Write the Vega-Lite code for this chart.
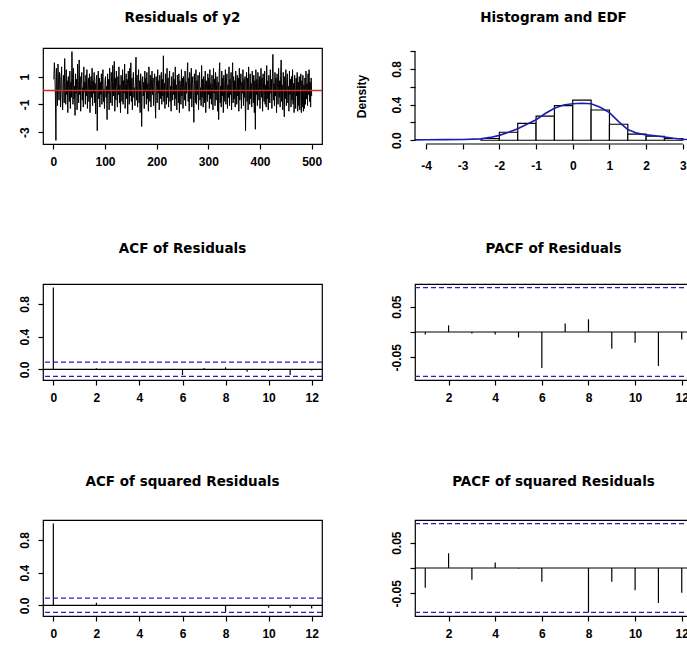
{
"$schema": "https://vega.github.io/schema/vega-lite/v6.json",
"background": "white",
"padding": {"left": 17, "top": 9, "right": 0, "bottom": 0},
"columns": 2,
"spacing": {"row": 140, "column": 93},
"bounds": "flush",
"config": {
 "font": "Liberation Sans",
 "view": {"stroke": "black", "strokeWidth": 1.2},
 "axis": {"grid": false, "domain": false, "tickColor": "black", "tickSize": 5, "tickWidth": 1.2, "labelFont": "Liberation Sans", "labelFontSize": 12, "labelFontWeight": "bold", "labelColor": "black", "labelOverlap": false, "labelPadding": 7, "titleFont": "Liberation Sans", "titleFontSize": 12, "titleFontWeight": "bold", "titleColor": "black"},
 "axisX": {"labelBaseline": "top", "labelAlign": "center"},
 "axisY": {"labelAngle": 270, "labelAlign": "center", "labelBaseline": "bottom", "labelPadding": 7},
 "title": {"font": "DejaVu Sans", "fontSize": 13.5, "fontWeight": "bold", "color": "black", "anchor": "middle", "frame": "group", "baseline": "alphabetic"}
},
"datasets": {
 "res": [
{"t":1,"v":0.8},{"t":2,"v":2.0},{"t":3,"v":1.2},{"t":4,"v":-0.4},{"t":5,"v":-3.6},{"t":6,"v":1.6},{"t":7,"v":0.3},{"t":8,"v":-1.1},{"t":9,"v":1.9},{"t":10,"v":0.5},
{"t":11,"v":-0.7},{"t":12,"v":1.3},{"t":13,"v":0.9},{"t":14,"v":-1.2},{"t":15,"v":0.6},{"t":16,"v":1.7},{"t":17,"v":-0.2},{"t":18,"v":-1.4},{"t":19,"v":0.4},{"t":20,"v":1.1},
{"t":21,"v":-0.9},{"t":22,"v":2.3},{"t":23,"v":0.2},{"t":24,"v":-1.0},{"t":25,"v":1.5},{"t":26,"v":-0.3},{"t":27,"v":0.7},{"t":28,"v":-1.6},{"t":29,"v":1.0},{"t":30,"v":0.1},
{"t":31,"v":-0.8},{"t":32,"v":1.4},{"t":33,"v":-1.3},{"t":34,"v":0.6},{"t":35,"v":-0.5},{"t":36,"v":2.8},{"t":37,"v":0.9},{"t":38,"v":-1.0},{"t":39,"v":1.6},{"t":40,"v":-0.6},
{"t":41,"v":0.3},{"t":42,"v":-1.8},{"t":43,"v":1.2},{"t":44,"v":-0.2},{"t":45,"v":0.8},{"t":46,"v":-1.4},{"t":47,"v":1.9},{"t":48,"v":0.4},{"t":49,"v":-0.9},{"t":50,"v":2.2},
{"t":51,"v":-0.3},{"t":52,"v":1.0},{"t":53,"v":-1.5},{"t":54,"v":0.5},{"t":55,"v":1.3},{"t":56,"v":-0.7},{"t":57,"v":0.2},{"t":58,"v":-1.2},{"t":59,"v":1.7},{"t":60,"v":-0.1},
{"t":61,"v":0.6},{"t":62,"v":-1.0},{"t":63,"v":1.1},{"t":64,"v":-0.4},{"t":65,"v":1.5},{"t":66,"v":-1.3},{"t":67,"v":0.3},{"t":68,"v":0.9},{"t":69,"v":-0.8},{"t":70,"v":1.2},
{"t":71,"v":-1.6},{"t":72,"v":0.4},{"t":73,"v":1.0},{"t":74,"v":-0.5},{"t":75,"v":1.6},{"t":76,"v":-1.1},{"t":77,"v":0.7},{"t":78,"v":-0.2},{"t":79,"v":1.3},{"t":80,"v":-0.9},
{"t":81,"v":0.5},{"t":82,"v":-1.7},{"t":83,"v":0.8},{"t":84,"v":1.1},{"t":85,"v":-2.9},{"t":86,"v":0.2},{"t":87,"v":1.4},{"t":88,"v":-0.6},{"t":89,"v":0.9},{"t":90,"v":-1.2},
{"t":91,"v":0.6},{"t":92,"v":-0.3},{"t":93,"v":1.2},{"t":94,"v":-1.0},{"t":95,"v":0.4},{"t":96,"v":1.5},{"t":97,"v":-0.8},{"t":98,"v":0.1},{"t":99,"v":-1.3},{"t":100,"v":0.7},
{"t":101,"v":1.0},{"t":102,"v":-0.5},{"t":103,"v":0.3},{"t":104,"v":-2.1},{"t":105,"v":1.2},{"t":106,"v":-0.2},{"t":107,"v":0.8},{"t":108,"v":-1.4},{"t":109,"v":1.6},{"t":110,"v":0.0},
{"t":111,"v":-0.9},{"t":112,"v":1.3},{"t":113,"v":0.5},{"t":114,"v":-1.1},{"t":115,"v":1.8},{"t":116,"v":-0.4},{"t":117,"v":0.6},{"t":118,"v":2.1},{"t":119,"v":-1.5},{"t":120,"v":0.9},
{"t":121,"v":-0.7},{"t":122,"v":1.4},{"t":123,"v":0.2},{"t":124,"v":-1.2},{"t":125,"v":1.0},{"t":126,"v":-0.3},{"t":127,"v":1.7},{"t":128,"v":-0.9},{"t":129,"v":0.4},{"t":130,"v":-1.6},
{"t":131,"v":1.1},{"t":132,"v":0.3},{"t":133,"v":-0.8},{"t":134,"v":1.5},{"t":135,"v":-1.0},{"t":136,"v":0.7},{"t":137,"v":-0.2},{"t":138,"v":1.9},{"t":139,"v":-1.3},{"t":140,"v":0.5},
{"t":141,"v":1.2},{"t":142,"v":-0.6},{"t":143,"v":0.8},{"t":144,"v":-1.7},{"t":145,"v":1.4},{"t":146,"v":0.1},{"t":147,"v":-1.0},{"t":148,"v":1.6},{"t":149,"v":-0.4},{"t":150,"v":2.0},
{"t":151,"v":-0.8},{"t":152,"v":0.9},{"t":153,"v":-1.4},{"t":154,"v":0.6},{"t":155,"v":1.3},{"t":156,"v":-0.5},{"t":157,"v":0.2},{"t":158,"v":-1.1},{"t":159,"v":1.0},{"t":160,"v":2.4},
{"t":161,"v":-0.7},{"t":162,"v":1.1},{"t":163,"v":-1.2},{"t":164,"v":0.4},{"t":165,"v":1.5},{"t":166,"v":-0.9},{"t":167,"v":0.7},{"t":168,"v":-1.6},{"t":169,"v":1.2},{"t":170,"v":0.3},
{"t":171,"v":-2.6},{"t":172,"v":0.8},{"t":173,"v":1.0},{"t":174,"v":-0.4},{"t":175,"v":0.6},{"t":176,"v":-1.3},{"t":177,"v":1.4},{"t":178,"v":-0.1},{"t":179,"v":0.9},{"t":180,"v":-1.0},
{"t":181,"v":1.3},{"t":182,"v":-0.6},{"t":183,"v":0.5},{"t":184,"v":-1.5},{"t":185,"v":1.7},{"t":186,"v":0.2},{"t":187,"v":-0.8},{"t":188,"v":1.1},{"t":189,"v":-1.2},{"t":190,"v":0.6},
{"t":191,"v":1.4},{"t":192,"v":-0.3},{"t":193,"v":0.9},{"t":194,"v":-1.1},{"t":195,"v":0.4},{"t":196,"v":1.2},{"t":197,"v":-0.7},{"t":198,"v":-2.0},{"t":199,"v":1.0},{"t":200,"v":0.3},
{"t":201,"v":-0.9},{"t":202,"v":1.5},{"t":203,"v":-0.2},{"t":204,"v":0.7},{"t":205,"v":-1.4},{"t":206,"v":1.1},{"t":207,"v":0.0},{"t":208,"v":-0.6},{"t":209,"v":1.3},{"t":210,"v":-1.0},
{"t":211,"v":0.8},{"t":212,"v":-0.4},{"t":213,"v":2.5},{"t":214,"v":-0.8},{"t":215,"v":0.5},{"t":216,"v":-1.3},{"t":217,"v":1.2},{"t":218,"v":0.2},{"t":219,"v":-1.0},{"t":220,"v":1.6},
{"t":221,"v":-0.5},{"t":222,"v":0.9},{"t":223,"v":-1.2},{"t":224,"v":0.6},{"t":225,"v":1.4},{"t":226,"v":-0.8},{"t":227,"v":0.3},{"t":228,"v":-1.5},{"t":229,"v":1.0},{"t":230,"v":0.1},
{"t":231,"v":-0.7},{"t":232,"v":1.3},{"t":233,"v":-0.3},{"t":234,"v":0.8},{"t":235,"v":-1.1},{"t":236,"v":1.7},{"t":237,"v":-0.6},{"t":238,"v":0.4},{"t":239,"v":-1.4},{"t":240,"v":1.1},
{"t":241,"v":0.5},{"t":242,"v":-0.9},{"t":243,"v":1.2},{"t":244,"v":-1.6},{"t":245,"v":0.7},{"t":246,"v":0.2},{"t":247,"v":-1.0},{"t":248,"v":1.5},{"t":249,"v":-0.4},{"t":250,"v":0.9},
{"t":251,"v":-1.3},{"t":252,"v":1.0},{"t":253,"v":0.3},{"t":254,"v":-0.7},{"t":255,"v":1.4},{"t":256,"v":-1.1},{"t":257,"v":0.6},{"t":258,"v":-0.2},{"t":259,"v":1.1},{"t":260,"v":2.0},
{"t":261,"v":-0.8},{"t":262,"v":0.9},{"t":263,"v":-1.5},{"t":264,"v":1.3},{"t":265,"v":0.0},{"t":266,"v":-0.6},{"t":267,"v":1.6},{"t":268,"v":-1.2},{"t":269,"v":0.5},{"t":270,"v":1.0},
{"t":271,"v":-0.4},{"t":272,"v":-2.3},{"t":273,"v":1.2},{"t":274,"v":0.3},{"t":275,"v":-0.9},{"t":276,"v":1.5},{"t":277,"v":-1.0},{"t":278,"v":0.7},{"t":279,"v":-0.3},{"t":280,"v":1.1},
{"t":281,"v":-1.4},{"t":282,"v":0.6},{"t":283,"v":1.3},{"t":284,"v":-0.7},{"t":285,"v":0.2},{"t":286,"v":-1.1},{"t":287,"v":1.8},{"t":288,"v":-0.5},{"t":289,"v":0.8},{"t":290,"v":-1.2},
{"t":291,"v":1.0},{"t":292,"v":0.4},{"t":293,"v":-0.9},{"t":294,"v":1.4},{"t":295,"v":-1.6},{"t":296,"v":0.7},{"t":297,"v":0.1},{"t":298,"v":-0.8},{"t":299,"v":1.2},{"t":300,"v":-0.3},
{"t":301,"v":0.9},{"t":302,"v":-1.3},{"t":303,"v":1.5},{"t":304,"v":-0.6},{"t":305,"v":0.5},{"t":306,"v":-1.0},{"t":307,"v":1.1},{"t":308,"v":0.2},{"t":309,"v":-1.4},{"t":310,"v":1.6},
{"t":311,"v":-0.2},{"t":312,"v":0.8},{"t":313,"v":-1.1},{"t":314,"v":1.3},{"t":315,"v":-0.7},{"t":316,"v":0.4},{"t":317,"v":1.0},{"t":318,"v":-1.5},{"t":319,"v":0.6},{"t":320,"v":-2.1},
{"t":321,"v":1.2},{"t":322,"v":2.0},{"t":323,"v":-0.9},{"t":324,"v":0.3},{"t":325,"v":-1.2},{"t":326,"v":1.4},{"t":327,"v":-0.4},{"t":328,"v":0.9},{"t":329,"v":-1.6},{"t":330,"v":1.1},
{"t":331,"v":0.1},{"t":332,"v":-0.8},{"t":333,"v":1.5},{"t":334,"v":-1.0},{"t":335,"v":0.6},{"t":336,"v":1.2},{"t":337,"v":-1.3},{"t":338,"v":0.4},{"t":339,"v":-0.5},{"t":340,"v":1.7},
{"t":341,"v":-1.1},{"t":342,"v":0.8},{"t":343,"v":-0.3},{"t":344,"v":1.3},{"t":345,"v":-1.4},{"t":346,"v":0.5},{"t":347,"v":2.0},{"t":348,"v":-0.9},{"t":349,"v":1.0},{"t":350,"v":-0.6},
{"t":351,"v":0.7},{"t":352,"v":-1.2},{"t":353,"v":1.4},{"t":354,"v":0.2},{"t":355,"v":-1.0},{"t":356,"v":1.1},{"t":357,"v":-0.4},{"t":358,"v":0.9},{"t":359,"v":-1.5},{"t":360,"v":1.6},
{"t":361,"v":-0.7},{"t":362,"v":0.3},{"t":363,"v":1.2},{"t":364,"v":-1.3},{"t":365,"v":0.6},{"t":366,"v":-0.2},{"t":367,"v":1.5},{"t":368,"v":-1.1},{"t":369,"v":0.8},{"t":370,"v":-0.5},
{"t":371,"v":1.0},{"t":372,"v":-2.9},{"t":373,"v":0.4},{"t":374,"v":1.3},{"t":375,"v":-0.8},{"t":376,"v":0.9},{"t":377,"v":-1.4},{"t":378,"v":1.7},{"t":379,"v":0.0},{"t":380,"v":-1.0},
{"t":381,"v":1.2},{"t":382,"v":-0.6},{"t":383,"v":0.5},{"t":384,"v":-1.2},{"t":385,"v":1.4},{"t":386,"v":0.3},{"t":387,"v":-0.9},{"t":388,"v":1.1},{"t":389,"v":-1.6},{"t":390,"v":0.7},
{"t":391,"v":-2.8},{"t":392,"v":1.5},{"t":393,"v":-0.3},{"t":394,"v":0.8},{"t":395,"v":-1.1},{"t":396,"v":1.3},{"t":397,"v":0.2},{"t":398,"v":-0.7},{"t":399,"v":1.0},{"t":400,"v":-1.3},
{"t":401,"v":0.6},{"t":402,"v":1.6},{"t":403,"v":-0.5},{"t":404,"v":0.9},{"t":405,"v":-1.5},{"t":406,"v":1.2},{"t":407,"v":0.1},{"t":408,"v":-0.8},{"t":409,"v":1.4},{"t":410,"v":-1.0},
{"t":411,"v":0.4},{"t":412,"v":-1.2},{"t":413,"v":1.8},{"t":414,"v":-0.6},{"t":415,"v":0.7},{"t":416,"v":-1.4},{"t":417,"v":1.1},{"t":418,"v":0.3},{"t":419,"v":-0.9},{"t":420,"v":1.5},
{"t":421,"v":-0.2},{"t":422,"v":0.8},{"t":423,"v":-1.3},{"t":424,"v":1.0},{"t":425,"v":2.6},{"t":426,"v":-0.7},{"t":427,"v":0.5},{"t":428,"v":-1.1},{"t":429,"v":1.3},{"t":430,"v":-0.4},
{"t":431,"v":0.9},{"t":432,"v":-1.6},{"t":433,"v":1.2},{"t":434,"v":0.2},{"t":435,"v":-1.0},{"t":436,"v":1.6},{"t":437,"v":-0.5},{"t":438,"v":0.7},{"t":439,"v":-1.2},{"t":440,"v":1.1},
{"t":441,"v":2.2},{"t":442,"v":-0.8},{"t":443,"v":0.4},{"t":444,"v":-1.4},{"t":445,"v":1.3},{"t":446,"v":0.0},{"t":447,"v":-1.9},{"t":448,"v":1.0},{"t":449,"v":-0.6},{"t":450,"v":1.5},
{"t":451,"v":-1.1},{"t":452,"v":0.6},{"t":453,"v":1.2},{"t":454,"v":-0.9},{"t":455,"v":0.3},{"t":456,"v":-1.5},{"t":457,"v":1.4},{"t":458,"v":-0.3},{"t":459,"v":0.8},{"t":460,"v":-1.2},
{"t":461,"v":1.0},{"t":462,"v":-0.7},{"t":463,"v":1.5},{"t":464,"v":-1.0},{"t":465,"v":0.5},{"t":466,"v":-1.6},{"t":467,"v":1.1},{"t":468,"v":0.2},{"t":469,"v":-1.3},{"t":470,"v":0.9},
{"t":471,"v":-0.4},{"t":472,"v":1.3},{"t":473,"v":-1.5},{"t":474,"v":0.6},{"t":475,"v":-1.1},{"t":476,"v":1.0},{"t":477,"v":-1.4},{"t":478,"v":0.3},{"t":479,"v":1.2},{"t":480,"v":-1.6},
{"t":481,"v":0.7},{"t":482,"v":-1.2},{"t":483,"v":1.1},{"t":484,"v":-1.5},{"t":485,"v":0.4},{"t":486,"v":-1.3},{"t":487,"v":0.9},{"t":488,"v":-1.0},{"t":489,"v":1.4},{"t":490,"v":-0.6},
{"t":491,"v":0.5},{"t":492,"v":-1.1},{"t":493,"v":1.2},{"t":494,"v":-0.3},{"t":495,"v":1.5},{"t":496,"v":-0.8},{"t":497,"v":0.6},{"t":498,"v":-1.2},{"t":499,"v":0.9},{"t":500,"v":-0.4}
 ],
 "hist": [
  {"lo":-2.5,"hi":-2.0,"d":0.02},{"lo":-2.0,"hi":-1.5,"d":0.09},{"lo":-1.5,"hi":-1.0,"d":0.19},{"lo":-1.0,"hi":-0.5,"d":0.27},
  {"lo":-0.5,"hi":0.0,"d":0.39},{"lo":0.0,"hi":0.5,"d":0.45},{"lo":0.5,"hi":1.0,"d":0.34},{"lo":1.0,"hi":1.5,"d":0.18},
  {"lo":1.5,"hi":2.0,"d":0.07},{"lo":2.0,"hi":2.5,"d":0.045},{"lo":2.5,"hi":3.0,"d":0.02}
 ],
 "dens": [
  {"lo":-4.3,"d":0.004},{"lo":-4.0,"d":0.006},{"lo":-3.5,"d":0.007},{"lo":-3.0,"d":0.008},{"lo":-2.5,"d":0.016},{"lo":-2.25,"d":0.032},
  {"lo":-2.0,"d":0.055},{"lo":-1.75,"d":0.09},{"lo":-1.5,"d":0.13},{"lo":-1.25,"d":0.18},{"lo":-1.0,"d":0.23},{"lo":-0.75,"d":0.30},
  {"lo":-0.5,"d":0.36},{"lo":-0.25,"d":0.395},{"lo":0.0,"d":0.41},{"lo":0.25,"d":0.415},{"lo":0.5,"d":0.41},{"lo":0.75,"d":0.37},
  {"lo":1.0,"d":0.31},{"lo":1.25,"d":0.21},{"lo":1.5,"d":0.12},{"lo":1.75,"d":0.08},{"lo":2.0,"d":0.06},{"lo":2.25,"d":0.05},
  {"lo":2.5,"d":0.037},{"lo":2.75,"d":0.022},{"lo":3.0,"d":0.012},{"lo":3.25,"d":0.006}
 ],
 "haxis": [{"lo": -4, "hi": 3, "d": -0.042}],
 "vaxis": [{"lo": -4.3, "d": 0, "d2": 1}],
 "acf1": [
  {"lag":0,"r":1},{"lag":1,"r":-0.005},{"lag":2,"r":0.013},{"lag":3,"r":-0.003},{"lag":4,"r":-0.005},{"lag":5,"r":-0.011},{"lag":6,"r":-0.07},
  {"lag":7,"r":0.016},{"lag":8,"r":0.024},{"lag":9,"r":-0.03},{"lag":10,"r":-0.02},{"lag":11,"r":-0.07},{"lag":12,"r":-0.014}
 ],
 "pacf1": [
  {"lag":1,"r":-0.005},{"lag":2,"r":0.013},{"lag":3,"r":-0.003},{"lag":4,"r":-0.005},{"lag":5,"r":-0.011},{"lag":6,"r":-0.071},
  {"lag":7,"r":0.017},{"lag":8,"r":0.025},{"lag":9,"r":-0.033},{"lag":10,"r":-0.021},{"lag":11,"r":-0.067},{"lag":12,"r":-0.015}
 ],
 "acf2": [
  {"lag":0,"r":1},{"lag":1,"r":-0.01},{"lag":2,"r":0.03},{"lag":3,"r":-0.01},{"lag":4,"r":0.005},{"lag":5,"r":0.0},{"lag":6,"r":-0.01},
  {"lag":7,"r":0.0},{"lag":8,"r":-0.08},{"lag":9,"r":-0.01},{"lag":10,"r":-0.03},{"lag":11,"r":-0.03},{"lag":12,"r":-0.04}
 ],
 "pacf2": [
  {"lag":1,"r":-0.039},{"lag":2,"r":0.029},{"lag":3,"r":-0.023},{"lag":4,"r":0.011},{"lag":5,"r":-0.001},{"lag":6,"r":-0.027},
  {"lag":7,"r":0.0},{"lag":8,"r":-0.088},{"lag":9,"r":-0.027},{"lag":10,"r":-0.044},{"lag":11,"r":-0.069},{"lag":12,"r":-0.049}
 ],
 "zero": [{"h":0}],
 "ci": [{"h":0.0877},{"h":-0.0877}]
},
"concat": [
 {
  "width": 279, "height": 96,
  "title": {"text": "Residuals of y2", "offset": 24},
  "layer": [
   {"data": {"name": "res"}, "mark": {"type": "line", "color": "black", "strokeWidth": 1},
    "encoding": {
     "x": {"field": "t", "type": "quantitative", "scale": {"domain": [-20, 520], "nice": false, "zero": false}, "axis": {"values": [0,100,200,300,400,500], "title": null}},
     "y": {"field": "v", "type": "quantitative", "scale": {"domain": [-3.86, 3.06], "nice": false, "zero": false}, "axis": {"values": [-3,-2,-1,0,1,2], "title": null, "labelExpr": "datum.value == 1 ? '1' : datum.value == -1 ? '-1' : datum.value == -3 ? '-3' : ''"}}
    }},
   {"data": {"name": "zero"}, "mark": {"type": "rule", "color": "#d62b2b", "strokeWidth": 1.5},
    "encoding": {"y": {"field": "h", "type": "quantitative"}}}
  ]
 },
 {
  "width": 277, "height": 96,
  "view": {"stroke": null},
  "title": {"text": "Histogram and EDF", "offset": 24},
  "encoding": {
   "x": {"field": "lo", "type": "quantitative", "scale": {"domain": [-4.3, 3.25], "nice": false, "zero": false}, "axis": {"values": [-4,-3,-2,-1,0,1,2,3], "title": null, "labelOverlap": false, "labelPadding": 11, "labelExpr": "datum.value < 0 ? '-' + abs(datum.value) : '' + datum.value"}},
   "y": {"field": "d", "type": "quantitative", "scale": {"domain": [-0.042, 1.036], "nice": false, "zero": false}, "axis": {"values": [0,0.2,0.4,0.6,0.8,1], "title": "Density", "titlePadding": 22, "labelExpr": "datum.value == 0 ? '0.0' : datum.value == 0.4 ? '0.4' : datum.value == 0.8 ? '0.8' : ''"}}
  },
  "layer": [
   {"data": {"name": "hist"}, "mark": {"type": "rect", "fill": "white", "stroke": "black", "strokeWidth": 1.2},
    "encoding": {"x2": {"field": "hi"}, "y2": {"datum": 0}}},
   {"data": {"name": "dens"}, "mark": {"type": "line", "color": "#1c1cb0", "strokeWidth": 1.6}, "encoding": {}},
   {"data": {"name": "haxis"}, "mark": {"type": "rule", "color": "black", "strokeWidth": 1.2},
    "encoding": {"x2": {"field": "hi"}}},
   {"data": {"name": "vaxis"}, "mark": {"type": "rule", "color": "black", "strokeWidth": 1.2},
    "encoding": {"y2": {"field": "d2"}}}
  ]
 },
 {
  "width": 279, "height": 96,
  "title": {"text": "ACF of Residuals", "offset": 29},
  "layer": [
   {"data": {"name": "acf1"}, "mark": {"type": "rule", "color": "black", "strokeWidth": 1.2},
    "encoding": {
     "x": {"field": "lag", "type": "quantitative", "scale": {"domain": [-0.48, 12.48], "nice": false, "zero": false}, "axis": {"values": [0,2,4,6,8,10,12], "title": null}},
     "y": {"field": "r", "type": "quantitative", "scale": {"domain": [-0.131, 1.0435], "nice": false, "zero": false}, "axis": {"values": [0,0.2,0.4,0.6,0.8,1], "title": null, "labelExpr": "datum.value == 0 ? '0.0' : datum.value == 0.4 ? '0.4' : datum.value == 0.8 ? '0.8' : ''"}},
     "y2": {"datum": 0}
    }},
   {"data": {"name": "zero"}, "mark": {"type": "rule", "color": "black", "strokeWidth": 1.2}, "encoding": {"y": {"field": "h", "type": "quantitative"}}},
   {"data": {"name": "ci"}, "mark": {"type": "rule", "color": "#2020c8", "strokeWidth": 1.2, "strokeDash": [5, 3]}, "encoding": {"y": {"field": "h", "type": "quantitative"}}}
  ]
 },
 {
  "width": 277, "height": 96,
  "title": {"text": "PACF of Residuals", "offset": 29},
  "layer": [
   {"data": {"name": "pacf1"}, "mark": {"type": "rule", "color": "black", "strokeWidth": 1.2},
    "encoding": {
     "x": {"field": "lag", "type": "quantitative", "scale": {"domain": [0.56, 12.44], "nice": false, "zero": false}, "axis": {"values": [2,4,6,8,10,12], "title": null}},
     "y": {"field": "r", "type": "quantitative", "scale": {"domain": [-0.0947, 0.0947], "nice": false, "zero": false}, "axis": {"values": [-0.05,0,0.05], "title": null, "labelExpr": "datum.value > 0.01 ? '0.05' : datum.value < -0.01 ? '-0.05' : ''"}},
     "y2": {"datum": 0}
    }},
   {"data": {"name": "zero"}, "mark": {"type": "rule", "color": "black", "strokeWidth": 1.2}, "encoding": {"y": {"field": "h", "type": "quantitative"}}},
   {"data": {"name": "ci"}, "mark": {"type": "rule", "color": "#2020c8", "strokeWidth": 1.2, "strokeDash": [5, 3]}, "encoding": {"y": {"field": "h", "type": "quantitative"}}}
  ]
 },
 {
  "width": 279, "height": 96,
  "title": {"text": "ACF of squared Residuals", "offset": 32},
  "layer": [
   {"data": {"name": "acf2"}, "mark": {"type": "rule", "color": "black", "strokeWidth": 1.2},
    "encoding": {
     "x": {"field": "lag", "type": "quantitative", "scale": {"domain": [-0.48, 12.48], "nice": false, "zero": false}, "axis": {"values": [0,2,4,6,8,10,12], "title": null}},
     "y": {"field": "r", "type": "quantitative", "scale": {"domain": [-0.131, 1.0435], "nice": false, "zero": false}, "axis": {"values": [0,0.2,0.4,0.6,0.8,1], "title": null, "labelExpr": "datum.value == 0 ? '0.0' : datum.value == 0.4 ? '0.4' : datum.value == 0.8 ? '0.8' : ''"}},
     "y2": {"datum": 0}
    }},
   {"data": {"name": "zero"}, "mark": {"type": "rule", "color": "black", "strokeWidth": 1.2}, "encoding": {"y": {"field": "h", "type": "quantitative"}}},
   {"data": {"name": "ci"}, "mark": {"type": "rule", "color": "#2020c8", "strokeWidth": 1.2, "strokeDash": [5, 3]}, "encoding": {"y": {"field": "h", "type": "quantitative"}}}
  ]
 },
 {
  "width": 277, "height": 96,
  "title": {"text": "PACF of squared Residuals", "offset": 32},
  "layer": [
   {"data": {"name": "pacf2"}, "mark": {"type": "rule", "color": "black", "strokeWidth": 1.2},
    "encoding": {
     "x": {"field": "lag", "type": "quantitative", "scale": {"domain": [0.56, 12.44], "nice": false, "zero": false}, "axis": {"values": [2,4,6,8,10,12], "title": null}},
     "y": {"field": "r", "type": "quantitative", "scale": {"domain": [-0.0947, 0.0947], "nice": false, "zero": false}, "axis": {"values": [-0.05,0,0.05], "title": null, "labelExpr": "datum.value > 0.01 ? '0.05' : datum.value < -0.01 ? '-0.05' : ''"}},
     "y2": {"datum": 0}
    }},
   {"data": {"name": "zero"}, "mark": {"type": "rule", "color": "black", "strokeWidth": 1.2}, "encoding": {"y": {"field": "h", "type": "quantitative"}}},
   {"data": {"name": "ci"}, "mark": {"type": "rule", "color": "#2020c8", "strokeWidth": 1.2, "strokeDash": [5, 3]}, "encoding": {"y": {"field": "h", "type": "quantitative"}}}
  ]
 }
]
}
